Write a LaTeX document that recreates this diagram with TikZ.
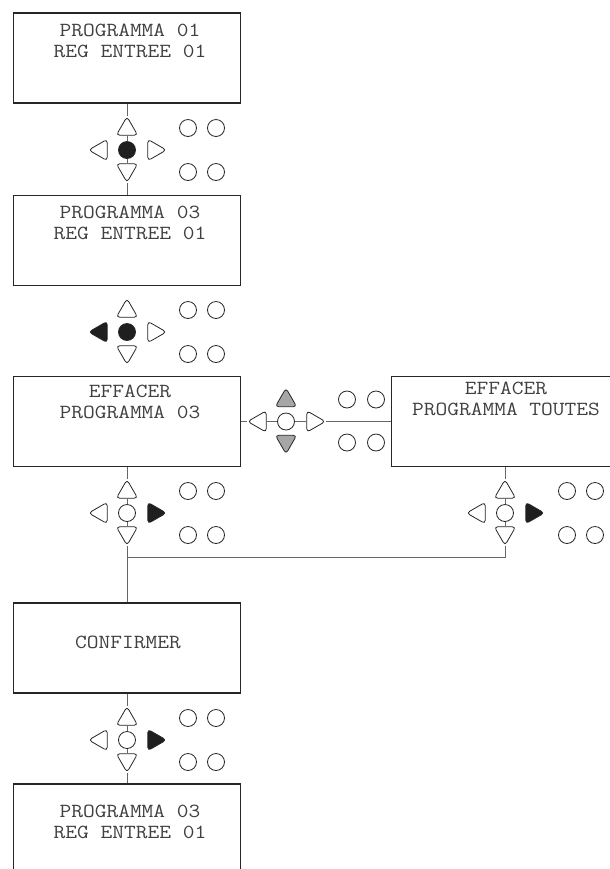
\documentclass[tikz,border=0pt]{standalone}
\usepackage{fontspec}
\newfontfamily\lcdfont{Latin Modern Mono}[FakeStretch=1.14]
\usetikzlibrary{shapes.geometric}

\begin{document}
\begin{tikzpicture}[
  x=0.75pt, y=-0.75pt,
  screen/.style={
    rectangle, draw=black!85, line width=0.8pt,
    minimum width=170.25pt, minimum height=67.5pt, inner sep=0pt
  },
  screentext/.style={
    font=\lcdfont\fontsize{15}{15.3}\selectfont,
    text=black!75, align=center, inner sep=0pt
  },
  btn/.style={
    circle, draw=black!85, line width=0.6pt, fill=white,
    minimum size=12.75pt, inner sep=0pt
  },
  tri/.style={
    regular polygon, regular polygon sides=3,
    draw=black!85, line width=0.6pt, fill=white,
    rounded corners=2.5pt, minimum size=18.5pt, inner sep=0pt
  },
  tri up/.style={tri},
  tri down/.style={tri, shape border rotate=180},
  tri left/.style={tri, shape border rotate=90},
  tri right/.style={tri, shape border rotate=-90},
  pressed/.style={fill=black!88},
  lit/.style={fill=black!35},
  wire/.style={draw=black!60, line width=0.75pt}
]
\clip (0,0) rectangle (610,869);

%% --- screens ---
\node[screen] (s1) at (127,58) {};
\node[screentext] (t1) at (130,41) {PROGRAMMA 01\\REG ENTREE 01};
\node[screen] (s2) at (127,240.5) {};
\node[screentext] (t2) at (130,223) {PROGRAMMA 03\\REG ENTREE 01};
\node[screen] (s3) at (127,421.5) {};
\node[screentext] (t3) at (130,402) {EFFACER\\PROGRAMMA 03};
\node[screen] (s4) at (505,421.5) {};
\node[screentext] (t4) at (506,399) {EFFACER\\PROGRAMMA TOUTES};
\node[screen] (s5) at (127,648) {};
\node[screentext] (t5) at (128,642) {CONFIRMER};
\node[screen] (s6) at (127,829) {};
\node[screentext] (t6) at (130,822) {PROGRAMMA 03\\REG ENTREE 01};

%% --- keypads ---
\begin{scope}[shift={(127,150)}]
  \node[btn, pressed] (k1c) at (0,0) {};
  \node[tri up] (k1u) at (0,-21) {};  \node[tri down] (k1d) at (0,20) {};
  \node[tri left] (k1l) at (-26,0) {}; \node[tri right] (k1r) at (27,0) {};
  \node[btn] (k1a) at (61,-22) {}; \node[btn] (k1b) at (89,-22) {};
  \node[btn] (k1e) at (61,22) {};  \node[btn] (k1f) at (89,22) {};
\end{scope}

\begin{scope}[shift={(127,332)}]
  \node[btn, pressed] (k2c) at (0,0) {};
  \node[tri up] (k2u) at (0,-21) {};  \node[tri down] (k2d) at (0,20) {};
  \node[tri left, pressed] (k2l) at (-26,0) {}; \node[tri right] (k2r) at (27,0) {};
  \node[btn] (k2a) at (61,-22) {}; \node[btn] (k2b) at (89,-22) {};
  \node[btn] (k2e) at (61,22) {};  \node[btn] (k2f) at (89,22) {};
\end{scope}

\begin{scope}[shift={(286,421.5)}]
  \node[btn] (k3c) at (0,0) {};
  \node[tri up, lit] (k3u) at (0,-21) {};  \node[tri down, lit] (k3d) at (0,20) {};
  \node[tri left] (k3l) at (-26,0) {}; \node[tri right] (k3r) at (27,0) {};
  \node[btn] (k3a) at (61,-22) {}; \node[btn] (k3b) at (90,-22) {};
  \node[btn] (k3e) at (61,21) {};  \node[btn] (k3f) at (90,21) {};
\end{scope}

\begin{scope}[shift={(127,513)}]
  \node[btn] (k4c) at (0,0) {};
  \node[tri up] (k4u) at (0,-21) {};  \node[tri down] (k4d) at (0,20) {};
  \node[tri left] (k4l) at (-26,0) {}; \node[tri right, pressed] (k4r) at (27,0) {};
  \node[btn] (k4a) at (61,-22) {}; \node[btn] (k4b) at (89,-22) {};
  \node[btn] (k4e) at (61,22) {};  \node[btn] (k4f) at (89,22) {};
\end{scope}

\begin{scope}[shift={(505,513)}]
  \node[btn] (k5c) at (0,0) {};
  \node[tri up] (k5u) at (0,-21) {};  \node[tri down] (k5d) at (0,20) {};
  \node[tri left] (k5l) at (-26,0) {}; \node[tri right, pressed] (k5r) at (27,0) {};
  \node[btn] (k5a) at (62,-22) {}; \node[btn] (k5b) at (90,-22) {};
  \node[btn] (k5e) at (62,22) {};  \node[btn] (k5f) at (90,22) {};
\end{scope}

\begin{scope}[shift={(127,740)}]
  \node[btn] (k6c) at (0,0) {};
  \node[tri up] (k6u) at (0,-21) {};  \node[tri down] (k6d) at (0,20) {};
  \node[tri left] (k6l) at (-26,0) {}; \node[tri right, pressed] (k6r) at (27,0) {};
  \node[btn] (k6a) at (61,-22) {}; \node[btn] (k6b) at (89,-22) {};
  \node[btn] (k6e) at (61,22) {};  \node[btn] (k6f) at (89,22) {};
\end{scope}

%% --- connectors ---
\coordinate (join) at (127,557);
\draw[wire] (s1) -- (k1u) -- (k1c) -- (k1d) -- (s2);
\draw[wire] (s3) -- (k3l) -- (k3c) -- (k3r) -- (s4);
\draw[wire] (s3) -- (k4u) -- (k4c) -- (k4d) -- (s5);
\draw[wire] (s4) -- (k5u) -- (k5c) -- (k5d) |- (join);
\draw[wire] (s5) -- (k6u) -- (k6c) -- (k6d) -- (s6);

\end{tikzpicture}
\end{document}
